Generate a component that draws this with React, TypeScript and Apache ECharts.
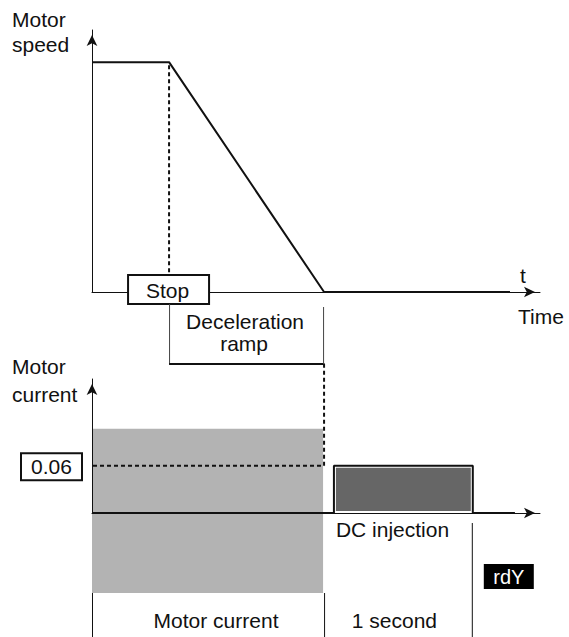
import React, { useEffect, useRef } from 'react';
import * as echarts from 'echarts';

const FAMILY = '"Liberation Sans", Arial, Helvetica, sans-serif';
const FONT = `21px ${FAMILY}`;
const INK = '#111';

// time axis (arbitrary units)
const timeAxisMax = 10;
const speedAxisMax = 1.14;
const currentAxisMax = 0.17;

// motor speed curve
const speedTimes = [0, 1.72, 5.18, 9.33];
const speedValues = [1, 1, 0, 0];

// motor current curve
const currentTimes = [0, 5.4, 5.4, 8.5, 8.5, 9.44];
const currentValues = [0, 0, 0.06, 0.06, 0, 0];

// events
const stopTime = 1.72;
const rampEndTime = 5.18;
const dcStartTime = 5.4;
const dcEndTime = 8.5;
const dcLevel = 0.06;
const runningCurrentLevel = 0.107;
const phaseBounds = [0, 5.18, 8.5];
const phaseLabels = ['Motor current', '1 second'];
const dcLevelLabel = '0.06';

const zip = (a: number[], b: number[]) => a.map((v, i) => [v, b[i]]);

function txt(x: number, y: number, text: string, align: string, extra: any = {}) {
  return {
    type: 'text',
    x,
    y,
    silent: true,
    style: {
      text,
      font: FONT,
      fill: INK,
      align,
      textAlign: align,
      verticalAlign: 'middle',
      textVerticalAlign: 'middle',
      ...extra,
    },
  };
}

const axisLine = {
  show: true,
  symbol: ['none', 'arrow'],
  symbolSize: [8, 11],
  symbolOffset: [0, -5],
  lineStyle: { color: INK, width: 1 },
};

const hidden = {
  axisTick: { show: false },
  axisLabel: { show: false },
  splitLine: { show: false },
};

function buildOption(): any {
  return {
    animation: false,
    grid: [
      { left: 92, top: 30, width: 448, height: 262 },
      { left: 92, top: 379, width: 448, height: 134 },
    ],
    xAxis: [
      { gridIndex: 0, type: 'value', min: 0, max: timeAxisMax, axisLine, ...hidden },
      { gridIndex: 1, type: 'value', min: 0, max: timeAxisMax, axisLine, ...hidden },
    ],
    yAxis: [
      { gridIndex: 0, type: 'value', min: 0, max: speedAxisMax, axisLine, ...hidden },
      { gridIndex: 1, type: 'value', min: 0, max: currentAxisMax, axisLine, ...hidden },
    ],
    graphic: [
      txt(12, 19.5, 'Motor', 'left'),
      txt(12, 44.5, 'speed', 'left'),
      txt(12, 366.7, 'Motor', 'left'),
      txt(12, 394.4, 'current', 'left'),
      txt(520, 275.7, 't', 'left'),
      txt(518, 316.7, 'Time', 'left'),
    ],
    series: [
      {
        name: 'running current',
        type: 'custom',
        xAxisIndex: 1,
        yAxisIndex: 1,
        z: -1,
        silent: true,
        data: [[0, 0]],
        renderItem: (_p: any, api: any) => {
          const [x0, base] = api.coord([0, 0]);
          const [, top] = api.coord([0, runningCurrentLevel]);
          const [rx] = api.coord([rampEndTime, 0]);
          return {
            type: 'rect',
            shape: { x: x0, y: top, width: rx - x0 - 1, height: base + 80 - top },
            style: { fill: '#b3b3b3' },
          };
        },
      },
      {
        name: 'Motor speed',
        type: 'line',
        xAxisIndex: 0,
        yAxisIndex: 0,
        data: zip(speedTimes, speedValues),
        showSymbol: false,
        symbol: 'none',
        lineStyle: { color: INK, width: 2 },
        z: 3,
      },
      {
        name: 'Motor current',
        type: 'line',
        xAxisIndex: 1,
        yAxisIndex: 1,
        data: zip(currentTimes, currentValues),
        showSymbol: false,
        symbol: 'none',
        lineStyle: { color: INK, width: 2 },
        z: 3,
      },
      {
        name: 'speed notes',
        type: 'custom',
        xAxisIndex: 0,
        yAxisIndex: 0,
        silent: true,
        z: 4,
        data: [[0, 0]],
        renderItem: (_p: any, api: any) => {
          const [sx, sy] = api.coord([stopTime, 1]);
          const [, by] = api.coord([stopTime, 0]);
          const [rx] = api.coord([rampEndTime, 0]);
          const boxTop = by - 17;
          const boxBot = by + 12;
          const bracketY = by + 72;
          return {
            type: 'group',
            children: [
              {
                type: 'line',
                shape: { x1: sx, y1: sy + 3, x2: sx, y2: boxTop },
                style: { stroke: INK, lineWidth: 2, lineDash: [4, 3] },
              },
              {
                type: 'rect',
                shape: { x: sx - 41, y: boxTop, width: 81, height: 29 },
                style: { fill: '#fff', stroke: INK, lineWidth: 2 },
              },
              txt(sx - 1.5, boxTop + 15.4, 'Stop', 'center'),
              {
                type: 'line',
                shape: { x1: sx + 0.5, y1: boxBot, x2: sx + 0.5, y2: bracketY },
                style: { stroke: '#444', lineWidth: 1 },
              },
              {
                type: 'line',
                shape: { x1: sx, y1: bracketY, x2: rx + 0.5, y2: bracketY },
                style: { stroke: INK, lineWidth: 2 },
              },
              {
                type: 'line',
                shape: { x1: rx - 0.5, y1: by + 15, x2: rx - 0.5, y2: bracketY },
                style: { stroke: '#444', lineWidth: 1 },
              },
              txt((sx + rx) / 2 - 1.5, by + 29.7, 'Deceleration', 'center'),
              txt((sx + rx) / 2 - 2.5, by + 51.4, 'ramp', 'center'),
            ],
          };
        },
      },
      {
        name: 'current notes',
        type: 'custom',
        xAxisIndex: 1,
        yAxisIndex: 1,
        silent: true,
        z: 2,
        data: [[0, 0]],
        renderItem: (_p: any, api: any) => {
          const [x0, base] = api.coord([0, 0]);
          const [, lvl] = api.coord([0, dcLevel]);
          const [, topY] = api.coord([0, currentAxisMax]);
          const [rx] = api.coord([rampEndTime, 0]);
          const [dsx] = api.coord([dcStartTime, 0]);
          const [dex] = api.coord([dcEndTime, 0]);
          const bx = phaseBounds.map((t) => api.coord([t, 0])[0]);
          const labelShift = [8, -4];
          const children: any[] = [
            {
              type: 'rect',
              shape: { x: dsx + 2, y: lvl + 2, width: dex - dsx - 4, height: base - 2 - (lvl + 2) },
              style: { fill: '#666' },
            },
            {
              type: 'line',
              shape: { x1: x0 + 1, y1: lvl, x2: rx, y2: lvl },
              style: { stroke: INK, lineWidth: 2, lineDash: [4, 3] },
            },
            {
              type: 'line',
              shape: { x1: rx, y1: lvl, x2: rx, y2: topY - 15 },
              style: { stroke: INK, lineWidth: 2, lineDash: [4, 3] },
            },
            {
              type: 'rect',
              shape: { x: x0 - 71, y: lvl - 12.5, width: 61, height: 27 },
              style: { fill: '#fff', stroke: INK, lineWidth: 2 },
            },
            txt(x0 - 40.5, lvl + 1, dcLevelLabel, 'center'),
            txt(dsx + 2, base + 16.7, 'DC injection', 'left'),
            {
              type: 'line',
              shape: { x1: dex - 0.5, y1: base + 10, x2: dex - 0.5, y2: base + 124 },
              style: { stroke: INK, lineWidth: 1 },
            },
            {
              type: 'rect',
              shape: { x: dex + 11, y: base + 51, width: 50, height: 25 },
              style: { fill: '#000' },
            },
            txt(dex + 36, base + 63.5, 'rdY', 'center', { fill: '#fff', font: `20px ${FAMILY}` }),
          ];
          [bx[0], bx[1]].forEach((x) => {
            children.push({
              type: 'line',
              shape: { x1: x + 0.5, y1: base + 80, x2: x + 0.5, y2: base + 124 },
              style: { stroke: INK, lineWidth: 1 },
            });
          });
          phaseLabels.forEach((label, i) => {
            children.push(txt((bx[i] + bx[i + 1]) / 2 + labelShift[i], base + 107.7, label, 'center'));
          });
          return { type: 'group', children };
        },
      },
    ],
  };
}

export default function App() {
  const ref = useRef<HTMLDivElement>(null);
  useEffect(() => {
    document.body.style.margin = '0';
    const chart = echarts.init(ref.current!, null, { renderer: 'svg' });
    chart.setOption(buildOption());
    return () => chart.dispose();
  }, []);
  return <div ref={ref} style={{ width: 569, height: 637, background: '#fff' }} />;
}
